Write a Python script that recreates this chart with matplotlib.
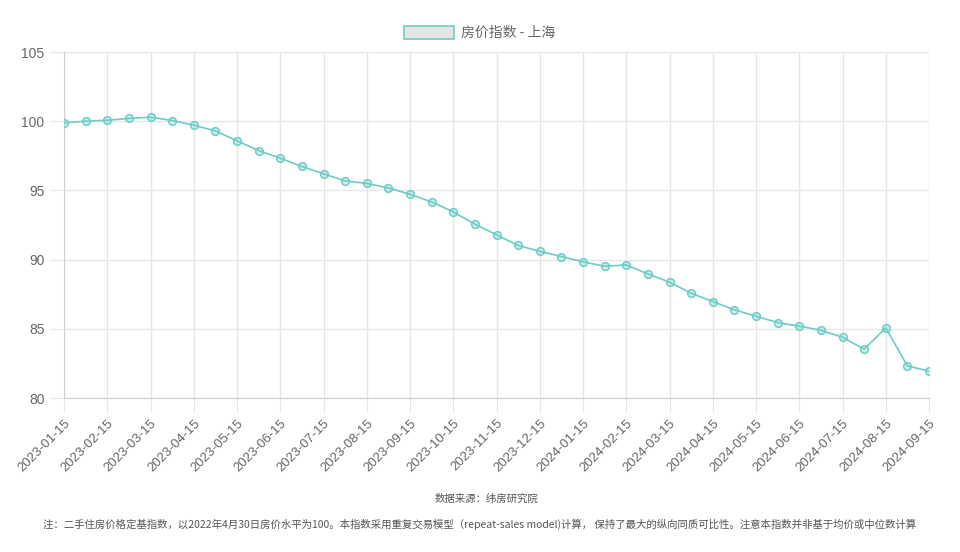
import numpy as np
import pandas as pd
import matplotlib
matplotlib.use("Agg")
import matplotlib.pyplot as plt
from matplotlib.patches import Patch

## 数据：房价指数 - 上海（半月度）
months = pd.period_range("2023-01", "2024-09", freq="M")
labels = []
for m in months:
    labels.append(f"{m.year}-{m.month:02d}-15")
    if m != months[-1]:
        labels.append(str(m.end_time.date()))

values = [99.88, 100.0, 100.07, 100.2, 100.29, 100.05, 99.71, 99.3, 98.58, 97.88,
          97.33, 96.73, 96.2, 95.69, 95.5, 95.18, 94.72, 94.17, 93.45, 92.56,
          91.79, 91.02, 90.6, 90.22, 89.84, 89.52, 89.61, 88.97, 88.37, 87.57,
          86.97, 86.37, 85.91, 85.45, 85.19, 84.9, 84.39, 83.53, 85.07, 82.32,
          81.94]

y_ticks = [80, 85, 90, 95, 100, 105]
series_name = "房价指数 - 上海"
source_text = "数据来源：纬房研究院"
note_text = ("注：二手住房价格定基指数，以2022年4月30日房价水平为100。本指数采用重复交易模型"
             "（repeat-sales model)计算， 保持了最大的纵向同质可比性。注意本指数并非基于均价或中位数计算")

teal = "#6ccdc6"
grid_c = "#e6e6e6"
txt_c = "#666666"
cjk = ["Noto Sans CJK SC", "DejaVu Sans"]

plt.rcParams["font.family"] = ["Liberation Sans", "Noto Sans CJK SC", "DejaVu Sans"]

fig = plt.figure(figsize=(9.6, 5.52), dpi=100)
ax = fig.add_axes([64 / 960, 1 - 398 / 552, 865 / 960, 346 / 552])

x = np.arange(len(values))
ax.plot(x, values, color=teal, lw=1.2, zorder=3)
ax.plot(x, values, ls="none", marker="o", ms=5.5, mew=1.1,
        mec=teal, mfc=(108 / 255, 205 / 255, 198 / 255, 0.3), zorder=4)

ax.set_xlim(0, len(values) - 1)
ax.set_ylim(80, 105)
ax.set_yticks(y_ticks)
ax.set_xticks(x[::2])
ax.set_xticklabels(labels[::2], rotation=45, ha="right", rotation_mode="anchor")

ax.grid(True, color=grid_c, lw=1)
ax.set_axisbelow(True)
for s in ["top", "right"]:
    ax.spines[s].set_visible(False)
for s in ["left", "bottom"]:
    ax.spines[s].set_color("#d0d0d0")
ax.tick_params(axis="both", length=10, color=grid_c, colors=txt_c, pad=4)
ax.tick_params(axis="y", labelsize=10)
ax.tick_params(axis="x", labelsize=9.5)
for t in ax.get_xticklabels() + ax.get_yticklabels():
    t.set_color(txt_c)

## 图例
handle = Patch(facecolor="#e5e5e5", edgecolor=teal, lw=1.2)
fig.legend([handle], [series_name], loc="center", bbox_to_anchor=(0.5, 1 - 33 / 552),
           frameon=False, handlelength=3.6, handleheight=1.1, handletextpad=0.5,
           prop={"family": cjk, "size": 10}, labelcolor=txt_c)

fig.text(0.507, 1 - 499 / 552, source_text, ha="center", va="center",
         fontsize=7.5, color="#555555", family=cjk)
fig.text(0.5, 1 - 524 / 552, note_text, ha="center", va="center",
         fontsize=7.5, color="#555555", family=cjk)

fig.savefig("out.png", dpi=100, facecolor="white")
